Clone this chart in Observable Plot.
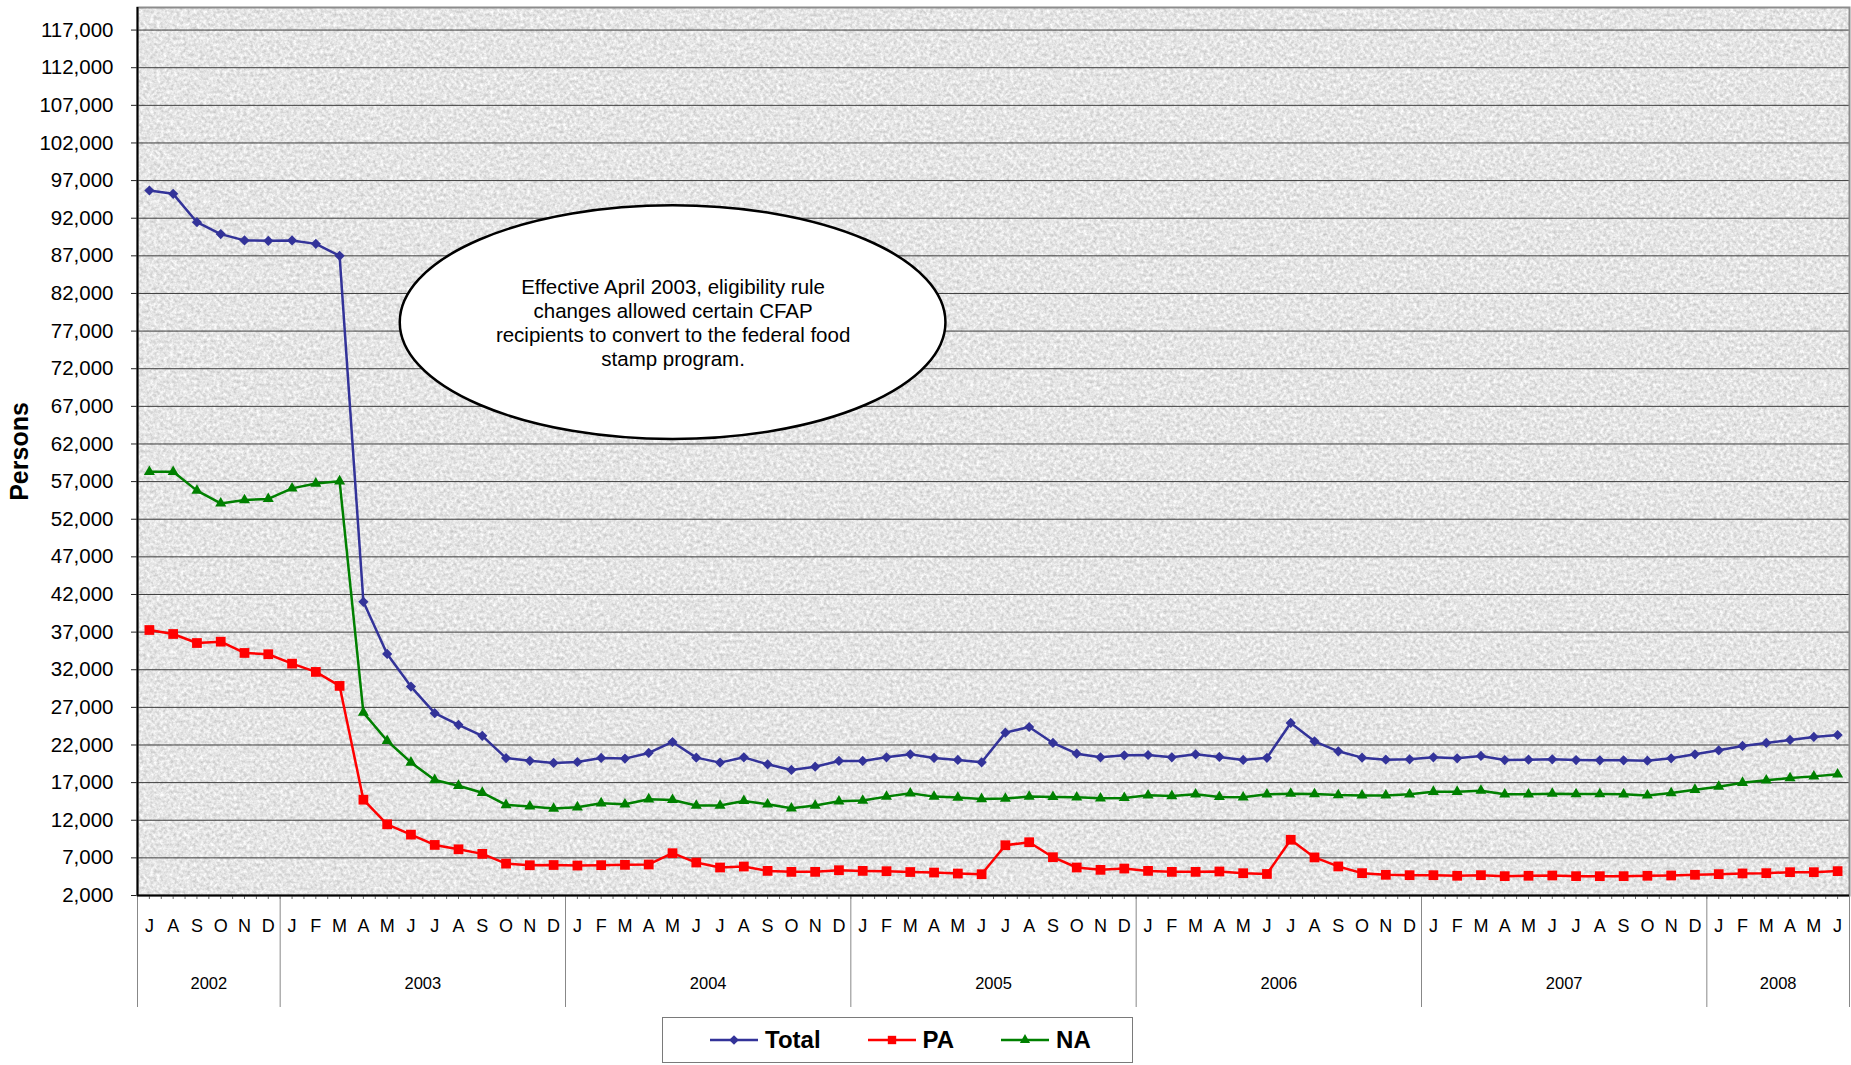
<!DOCTYPE html>
<html>
<head>
<meta charset="utf-8">
<script src="https://cdn.jsdelivr.net/npm/d3@7"></script>
<script src="https://cdn.jsdelivr.net/npm/@observablehq/plot@0.6"></script>
<style>
  html, body { margin: 0; padding: 0; background: #fff; }
  #wrap { position: relative; width: 1851px; height: 1065px; font-family: "Liberation Sans", Arial, sans-serif; }
  #legend {
    position: absolute; left: 662px; top: 1017px; width: 471px; height: 46px;
    box-sizing: border-box; border: 1.5px solid #7a7a7a; background: #fff;
    display: flex; align-items: center; padding-left: 47px;
  }
  .item { display: flex; align-items: center; margin-right: 47px; }
  .item svg { margin-right: 7px; }
  .item span { font-weight: bold; font-size: 24px; color: #000; }
</style>
</head>
<body>
<div id="wrap"></div>
<script>
// ---- Data ----
const monthLetters = ["J","F","M","A","M","J","J","A","S","O","N","D"];
const firstMonth = 6; // July 2002
const years = ["2002", "2003", "2004", "2005", "2006", "2007", "2008"];
const yearBounds = [0, 6, 18, 30, 42, 54, 66, 72];
const yTicks = [2000, 7000, 12000, 17000, 22000, 27000, 32000, 37000, 42000, 47000, 52000, 57000,
  62000, 67000, 72000, 77000, 82000, 87000, 92000, 97000, 102000, 107000, 112000, 117000];

const total = [
  95680, 95240, 91470, 89890, 89050, 89000,
  89050, 88590, 87000, 41030, 34100, 29760, 26230, 24680, 23220, 20260, 19900, 19620,
  19740, 20280, 20190, 20940, 22400, 20320, 19660, 20360, 19430, 18680, 19120, 19880,
  19880, 20360, 20760, 20280, 20010, 19700, 23640, 24390, 22270, 20850, 20360, 20630,
  20670, 20360, 20760, 20410, 20010, 20300, 24930, 22490, 21160, 20320, 20050, 20100,
  20360, 20230, 20540, 20000, 20050, 20100, 20000, 19960, 19960, 19920, 20230, 20760,
  21290, 21870, 22270, 22670, 23070, 23330
];
const pa = [
  37280, 36750, 35550, 35730, 34230, 34060,
  32810, 31710, 29850, 14730, 11460, 10090, 8720, 8140, 7530, 6240, 6020, 6050,
  5980, 6030, 6070, 6120, 7620, 6380, 5720, 5850, 5270, 5140, 5140, 5360,
  5270, 5230, 5120, 5050, 4920, 4830, 8680, 9080, 7090, 5720, 5410, 5580,
  5270, 5140, 5140, 5190, 4960, 4860, 9410, 7060, 5860, 4970, 4750, 4700,
  4700, 4620, 4700, 4570, 4620, 4660, 4570, 4570, 4570, 4620, 4660, 4750,
  4840, 4930, 4970, 5100, 5100, 5240
];
const na = [
  58300, 58300, 55800, 54100, 54550, 54700,
  56100, 56750, 57050, 26300, 22560, 19680, 17350, 16590, 15660, 14030, 13840, 13550,
  13730, 14260, 14120, 14790, 14700, 13950, 13950, 14570, 14120, 13590, 13950, 14520,
  14610, 15140, 15580, 15140, 15010, 14830, 14880, 15140, 15100, 15050, 14920, 14970,
  15320, 15230, 15450, 15100, 15050, 15440, 15530, 15480, 15350, 15300, 15300, 15440,
  15790, 15790, 15930, 15440, 15440, 15530, 15480, 15480, 15440, 15300, 15620, 16060,
  16460, 16990, 17300, 17610, 17830, 18100
];

const series = [
  {name: "Total", values: total, color: "#333399", symbol: "diamond2", r: 4.6},
  {name: "PA", values: pa, color: "#ff0000", symbol: "square", r: 5.5},
  {name: "NA", values: na, color: "#008000", symbol: "triangle", r: 4.1}
];

const annotation = {
  x1: 11.05, x2: 34.0, y1: 62600, y2: 93650,
  text: "Effective April 2003, eligibility rule\nchanges allowed certain CFAP\nrecipients to convert to the federal food\nstamp program."
};

// ---- Derived tables ----
const monthIdx = d3.range(total.length);
const monthLabel = i => monthLetters[(firstMonth + i) % 12];
const yearCenters = years.map((y, k) => ({year: y, x: (yearBounds[k] + yearBounds[k + 1]) / 2}));
const rows = (s) => s.values.map((v, i) => ({x: i + 0.5, y: v}));

const font = "'Liberation Sans', Arial, sans-serif";

const marks = [
  Plot.frame({fill: "#e2e2e2", className: "bgframe"}),
  Plot.gridY(yTicks, {stroke: "#3c3c3c", strokeOpacity: 1, strokeWidth: 1}),
  Plot.axisY(yTicks, {tickSize: 6, tickPadding: 18, fontSize: 20.5, stroke: "#222", tickFormat: d3.format(","), fill: "#000"}),
  Plot.axisX(d3.range(0, 72.5, 0.5), {tickSize: 4, stroke: "#666", tickFormat: () => ""}),
  Plot.axisX(monthIdx.map(i => i + 0.5), {tickSize: 0, tickPadding: 24, fontSize: 18, fill: "#000", tickFormat: d => monthLabel(Math.floor(d))}),
  Plot.axisX(yearBounds, {tickSize: 112, stroke: "#888", tickFormat: () => ""}),
  Plot.axisX(yearCenters.map(d => d.x), {tickSize: 0, tickPadding: 82, fontSize: 16.5, fill: "#000",
    tickFormat: d => yearCenters.find(c => c.x === d).year}),
  Plot.frame({stroke: "#8c8c8c", strokeWidth: 2}),
  Plot.ruleX([0], {stroke: "#000", strokeWidth: 2}),
  Plot.ruleY([2000], {stroke: "#000", strokeWidth: 2}),
  Plot.text(["Persons"], {frameAnchor: "left", dx: -118, rotate: -90, textAnchor: "middle", fontSize: 25, fontWeight: "bold", fill: "#000"})
];
for (const s of series) {
  marks.push(Plot.line(rows(s), {x: "x", y: "y", stroke: s.color, strokeWidth: 2.5}));
  marks.push(Plot.dot(rows(s), {x: "x", y: "y", symbol: s.symbol, fill: s.color, r: s.r}));
}
// annotation ellipse (custom render mark using scales)
marks.push((index, scales) => {
  const cx = scales.x((annotation.x1 + annotation.x2) / 2);
  const cy = scales.y((annotation.y1 + annotation.y2) / 2);
  const rx = Math.abs(scales.x(annotation.x2) - scales.x(annotation.x1)) / 2;
  const ry = Math.abs(scales.y(annotation.y2) - scales.y(annotation.y1)) / 2;
  return d3.create("svg:ellipse")
    .attr("cx", cx).attr("cy", cy).attr("rx", rx).attr("ry", ry)
    .attr("fill", "#fff").attr("stroke", "#000").attr("stroke-width", 2.5).node();
});
marks.push(Plot.text([annotation], {
  x: a => (a.x1 + a.x2) / 2, y: a => (a.y1 + a.y2) / 2, text: "text",
  fontSize: 20.5, lineHeight: 1.17, fill: "#000", textAnchor: "middle"
}));

const chart = Plot.plot({
  width: 1851, height: 1012,
  marginLeft: 137, marginRight: 2, marginTop: 7, marginBottom: 117,
  x: {domain: [0, 72], axis: null, label: null},
  y: {domain: [2000, 120000], axis: null, label: null},
  style: {fontFamily: font, background: "transparent", overflow: "visible"},
  marks
});

// granite-like texture for the plot background
const svgNS = "http://www.w3.org/2000/svg";
const defs = document.createElementNS(svgNS, "defs");
defs.innerHTML = `
  <filter id="granite" x="0" y="0" width="100%" height="100%" color-interpolation-filters="sRGB">
    <feTurbulence type="fractalNoise" baseFrequency="0.3" numOctaves="4" seed="7" result="n"/>
    <feColorMatrix in="n" type="matrix" values="1 0 0 0 0  1 0 0 0 0  1 0 0 0 0  0 0 0 0 1" result="g"/>
    <feComponentTransfer in="g">
      <feFuncR type="linear" slope="0.32" intercept="0.74"/>
      <feFuncG type="linear" slope="0.32" intercept="0.74"/>
      <feFuncB type="linear" slope="0.32" intercept="0.74"/>
    </feComponentTransfer>
  </filter>`;
chart.insertBefore(defs, chart.firstChild);
const bg = chart.querySelector(".bgframe rect, rect.bgframe, g.bgframe rect") || chart.querySelector("[aria-label=frame] rect");
if (bg) bg.setAttribute("filter", "url(#granite)");

const wrap = document.getElementById("wrap");
wrap.appendChild(chart);

// legend
const legend = document.createElement("div");
legend.id = "legend";
const symbolPath = {
  diamond2: d3.symbol(d3.symbolDiamond2, 60)(),
  square: d3.symbol(d3.symbolSquare, 70)(),
  triangle: d3.symbol(d3.symbolTriangle, 45)()
};
for (const s of series) {
  const item = document.createElement("div");
  item.className = "item";
  item.innerHTML = `<svg width="48" height="20" viewBox="0 0 48 20">
      <line x1="0" x2="48" y1="10" y2="10" stroke="${s.color}" stroke-width="2.4"/>
      <path d="${symbolPath[s.symbol]}" transform="translate(24,10)" fill="${s.color}"/>
    </svg><span>${s.name}</span>`;
  legend.appendChild(item);
}
wrap.appendChild(legend);
</script>
</body>
</html>
